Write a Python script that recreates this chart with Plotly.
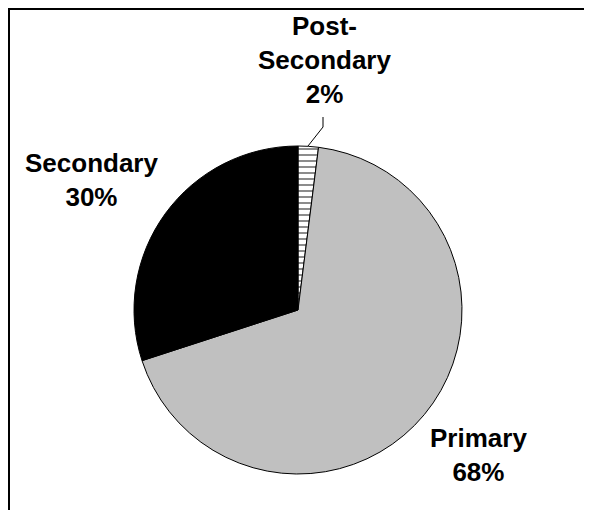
import plotly.graph_objects as go

categories = ["Post-Secondary", "Primary", "Secondary"]
values = [2, 68, 30]
colors = ["#FFFFFF", "#C0C0C0", "#000000"]

W, H = 592, 510
OFF = 8  # page offset of the figure inside the browser body


def px(x):
    # page pixel -> paper fraction
    return (x - OFF) / W


def py(y):
    return 1 - (y - OFF) / H


# pie placement (page pixels): centre (298, 310), radius 164
cx, cy, r = 298, 310, 164

fig = go.Figure(
    go.Pie(
        labels=categories,
        values=values,
        sort=False,
        direction="clockwise",
        rotation=0,
        textinfo="none",
        hoverinfo="label+percent",
        marker=dict(
            colors=colors,
            line=dict(color="#000000", width=1),
            pattern=dict(
                shape=["-", "", ""],
                fgcolor="#000000",
                bgcolor=colors,
                size=6,
                solidity=0.3,
                fillmode="overlay",
            ),
        ),
        domain=dict(x=[px(cx - r), px(cx + r)], y=[py(cy + r), py(cy - r)]),
        showlegend=False,
    )
)

total = sum(values)
label_pos = {
    "Post-Secondary": (324, 60),
    "Primary": (478, 455),
    "Secondary": (91, 180),
}
annotations = []
for cat, val in zip(categories, values):
    x, y = label_pos[cat]
    txt = cat.replace("-", "-<br>") + "<br>" + f"{round(100 * val / total)}%"
    annotations.append(
        dict(
            x=px(x), y=py(y), xref="paper", yref="paper",
            text=f"<b>{txt}</b>", showarrow=False,
            xanchor="center", yanchor="middle", align="center",
            font=dict(family="Liberation Sans, Arial, sans-serif", size=26, color="#000000"),
        )
    )

shapes = [
    # frame: top and left edges
    dict(type="line", xref="paper", yref="paper", x0=0, y0=1, x1=1, y1=1,
         line=dict(color="#000000", width=4)),
    dict(type="line", xref="paper", yref="paper", x0=0, y0=1, x1=0, y1=0,
         line=dict(color="#000000", width=4)),
    # leader line for the small slice
    dict(type="path", xref="paper", yref="paper",
         path=f"M {px(323)} {py(117)} L {px(323)} {py(127)} L {px(308)} {py(146)}",
         line=dict(color="#000000", width=1)),
]

fig.update_layout(
    width=W, height=H,
    margin=dict(l=0, r=0, t=0, b=0),
    paper_bgcolor="#FFFFFF",
    plot_bgcolor="#FFFFFF",
    annotations=annotations,
    shapes=shapes,
)

fig.write_html("out.html")
